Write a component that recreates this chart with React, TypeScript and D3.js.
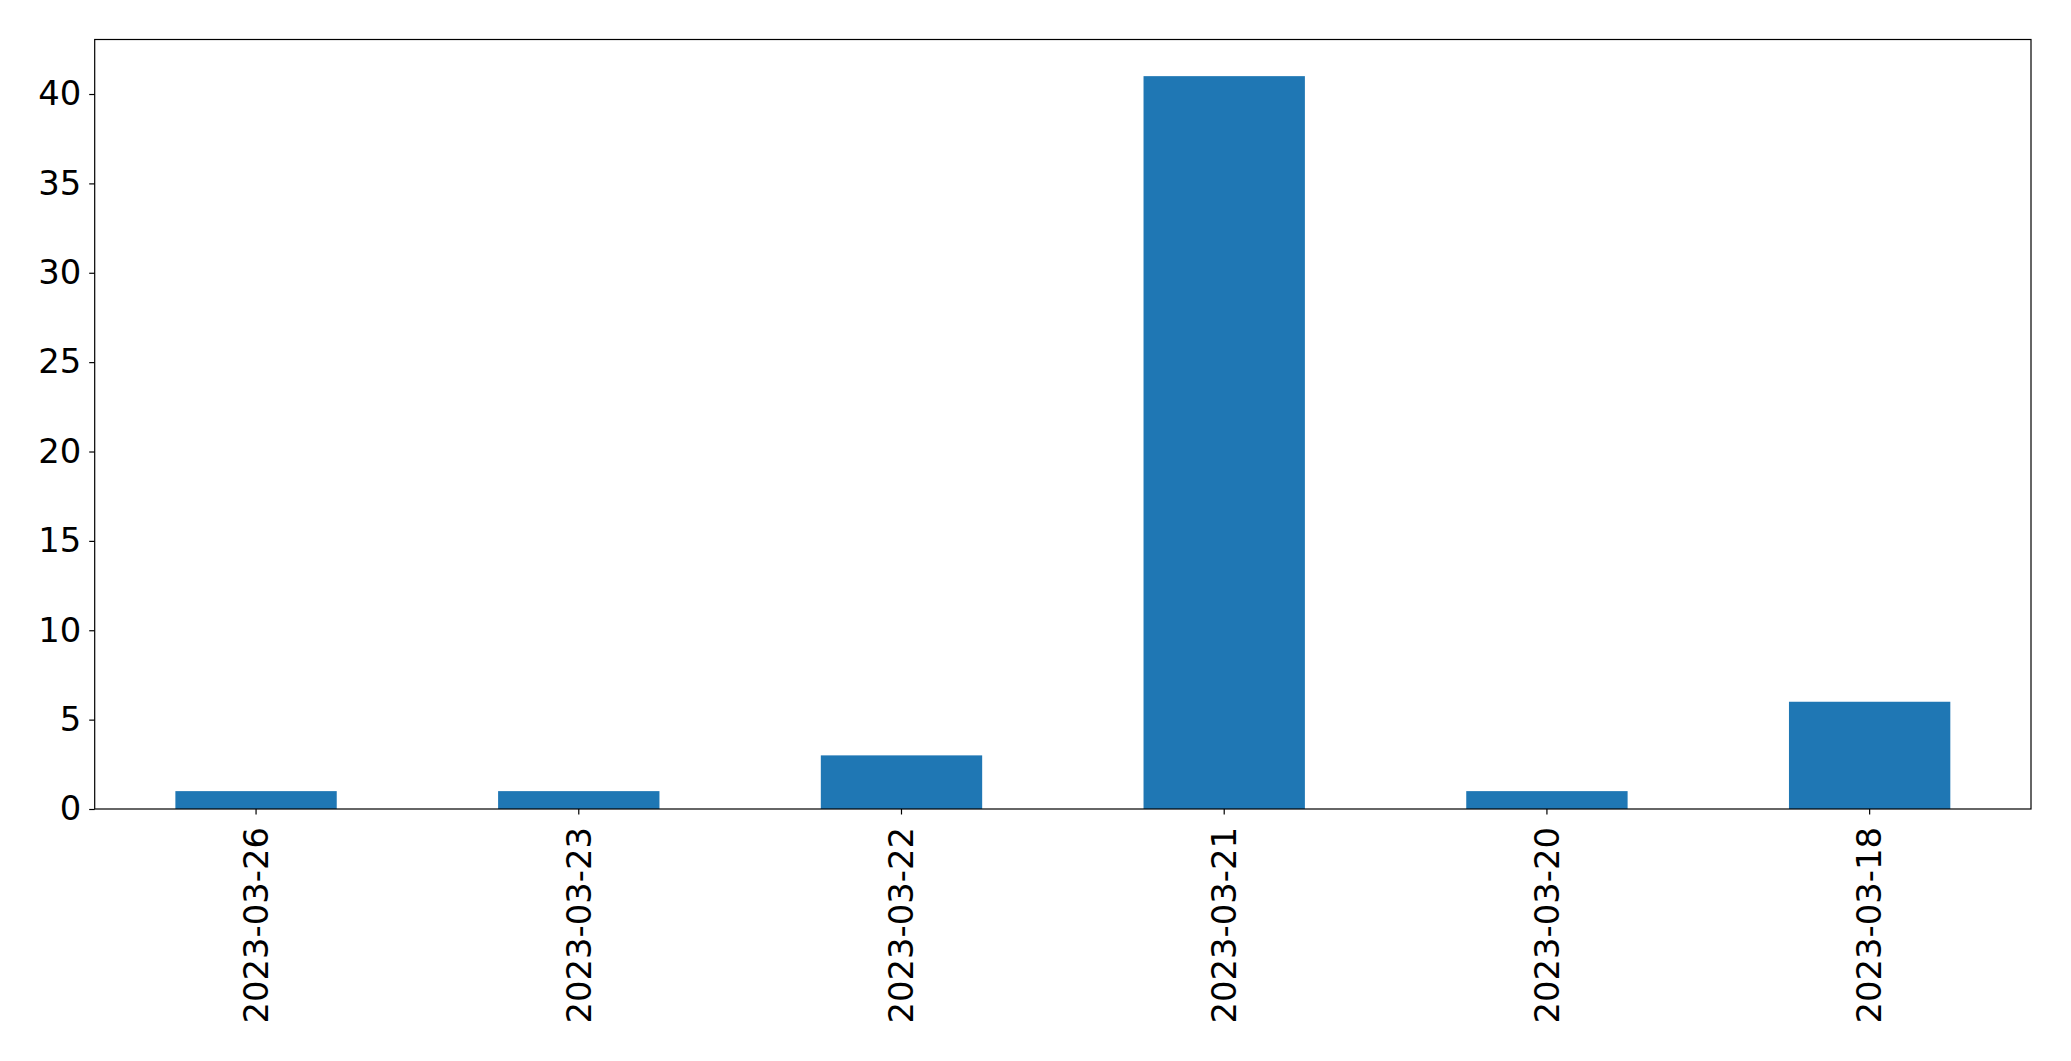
import { useEffect, useRef } from "react";
import * as d3 from "d3";

const dates = [
  "2023-03-26",
  "2023-03-23",
  "2023-03-22",
  "2023-03-21",
  "2023-03-20",
  "2023-03-18",
];
const counts = [1, 1, 3, 41, 1, 6];
const yTicks = [0, 5, 10, 15, 20, 25, 30, 35, 40];

export default function App() {
  const svgRef = useRef<SVGSVGElement>(null);

  useEffect(() => {
    if (!svgRef.current) return;
    const svg = d3.select(svgRef.current);
    const width = 2071;
    const height = 1061;
    const margin = { top: 39.5, right: 40, bottom: 252, left: 94.7 };
    const innerWidth = width - margin.left - margin.right;
    const innerHeight = height - margin.top - margin.bottom;
    const fontSize = 33.8;

    svg.selectAll("*").remove();
    svg.attr("width", width).attr("height", height);

    const g = svg
      .append("g")
      .attr("transform", `translate(${margin.left},${margin.top})`);

    const x = d3.scaleBand().domain(dates).range([0, innerWidth]).paddingInner(0.5).paddingOuter(0.25);

    const y = d3
      .scaleLinear()
      .domain([0, d3.max(counts)! * 1.05])
      .range([innerHeight, 0]);

    g.selectAll("rect.bar")
      .data(dates)
      .join("rect")
      .attr("class", "bar")
      .attr("x", (d) => x(d)!)
      .attr("width", x.bandwidth())
      .attr("y", (_d, i) => y(counts[i]))
      .attr("height", (_d, i) => innerHeight - y(counts[i]))
      .attr("fill", "#1f77b4");

    // y axis
    const yAxis = g
      .append("g")
      .call(d3.axisLeft(y).tickValues(yTicks).tickSize(5.5).tickPadding(8).tickFormat(d3.format("d")));
    yAxis.select("path.domain").remove();
    yAxis
      .selectAll("text")
      .attr("fill", "#000")
      .style("font-family", "DejaVu Sans")
      .style("font-size", `${fontSize}px`);
    yAxis.selectAll("line").attr("stroke", "#000").attr("stroke-width", 1.2);

    // x axis
    const xAxis = g
      .append("g")
      .attr("transform", `translate(0,${innerHeight})`)
      .call(d3.axisBottom(x).tickSize(5.5).tickPadding(0));
    xAxis.select("path.domain").remove();
    xAxis.selectAll("line").attr("stroke", "#000").attr("stroke-width", 1.2);
    xAxis
      .selectAll("text")
      .attr("fill", "#000")
      .attr("transform", "rotate(-90)")
      .attr("x", -18)
      .attr("y", 0)
      .attr("dy", "0.35em")
      .attr("text-anchor", "end")
      .style("font-family", "DejaVu Sans")
      .style("font-size", `${fontSize}px`);

    // frame
    g.append("rect")
      .attr("x", 0)
      .attr("y", 0)
      .attr("width", innerWidth)
      .attr("height", innerHeight)
      .attr("fill", "none")
      .attr("stroke", "#000")
      .attr("stroke-width", 1.2);
  }, []);

  return (
    <div style={{ position: "absolute", left: 0, top: 0, background: "#fff" }}>
      <svg ref={svgRef} style={{ display: "block" }} />
    </div>
  );
}
